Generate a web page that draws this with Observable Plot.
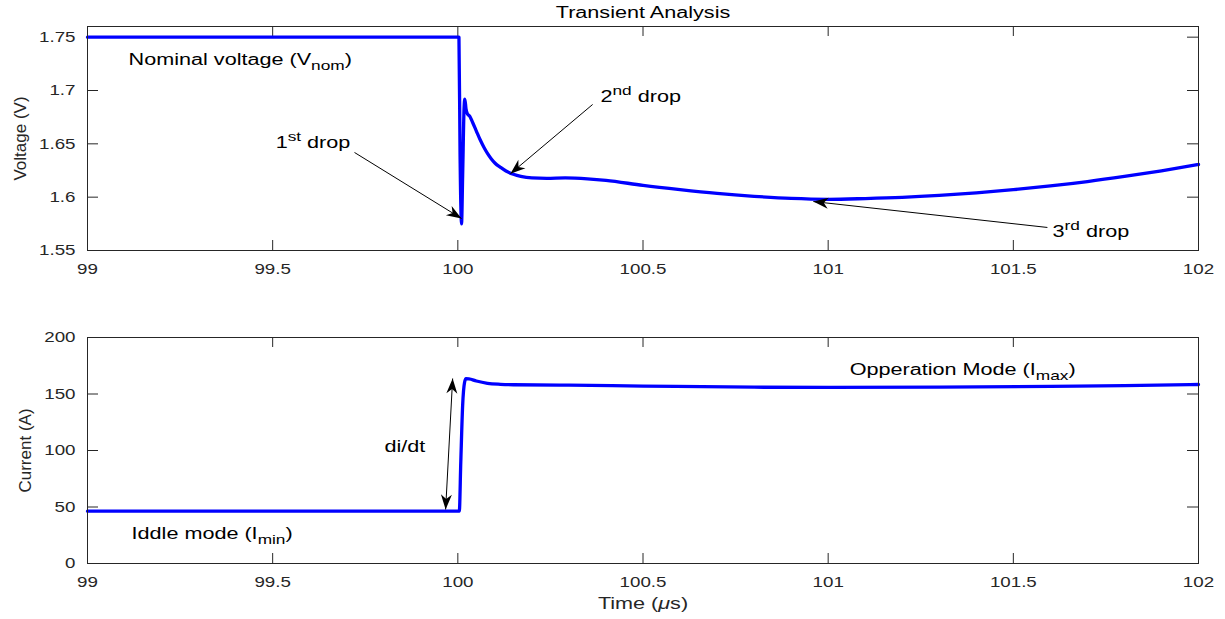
<!DOCTYPE html>
<html><head><meta charset="utf-8">
<script src="https://cdn.jsdelivr.net/npm/d3@7"></script>
<script src="https://cdn.jsdelivr.net/npm/@observablehq/plot@0.6"></script>
<style>
html,body{margin:0;padding:0;background:#fff;}
#chart{width:1225px;height:619px;overflow:hidden;background:#fff;}
#chart svg{display:block;}
</style></head><body><div id="chart"></div>
<script>
// ---------- data ----------
const xTicks = [99, 99.5, 100, 100.5, 101, 101.5, 102];
const voltTicks = [1.55, 1.6, 1.65, 1.7, 1.75];
const currTicks = [0, 50, 100, 150, 200];

const voltT = [99, 100.0, 100.003, 100.006, 100.010, 100.013, 100.017, 100.019, 100.022, 100.026, 100.032, 100.04, 100.05, 100.06, 100.07, 100.08, 100.09, 100.10, 100.115, 100.13, 100.15, 100.17, 100.2, 100.24, 100.29, 100.35, 100.4, 100.5, 100.6, 100.7, 100.8, 100.9, 101.0, 101.1, 101.2, 101.3, 101.4, 101.5, 101.6, 101.7, 101.8, 101.9, 102.0];
const voltV = [1.75, 1.75, 1.75, 1.64, 1.575, 1.62, 1.685, 1.692, 1.683, 1.678, 1.676, 1.670, 1.662, 1.654, 1.647, 1.641, 1.636, 1.632, 1.628, 1.6245, 1.6215, 1.6195, 1.618, 1.6176, 1.618, 1.6172, 1.6158, 1.611, 1.607, 1.6035, 1.6008, 1.5988, 1.598, 1.5987, 1.5998, 1.6016, 1.604, 1.607, 1.6105, 1.6146, 1.6194, 1.6247, 1.6306];

const currT = [99, 100.0, 100.004, 100.008, 100.013, 100.018, 100.022, 100.03, 100.05, 100.08, 100.115, 100.15, 100.3, 100.5, 100.8, 101.0, 101.3, 101.6, 101.8, 102.0];
const currI = [46.3, 46.3, 46.3, 90, 140, 160, 163.5, 163.4, 161.5, 159.5, 158.6, 158.2, 157.8, 157, 156, 155.8, 156.1, 156.8, 157.5, 158.4];

const voltNoteText = ["Nominal voltage (V_{nom})", "1^{st} drop", "2^{nd} drop", "3^{rd} drop"];
const voltNoteT = [99.111, 99.508, 100.385, 101.606];
const voltNoteV = [1.729, 1.6513, 1.6944, 1.5678];
const voltArrowT1 = [99.721, 100.364, 101.592];
const voltArrowV1 = [1.6419, 1.6869, 1.5716];
const voltArrowT2 = [100.010, 100.142, 100.960];
const voltArrowV2 = [1.580, 1.622, 1.5959];

const currNoteText = ["Iddle mode (I_{min})", "Opperation Mode (I_{max})"];
const currNoteT = [99.119, 101.058];
const currNoteI = [26.1, 171.7];
const didtText = ["di/dt"];
const didtT = [99.857];
const didtI = [103.1];
const didtArrowT1 = [99.967];
const didtArrowI1 = [47.8];
const didtArrowT2 = [99.986];
const didtArrowI2 = [163.7];

const titleText = ["Transient Analysis"];
const voltLabel = ["Voltage (V)"];
const currLabel = ["Current (A)"];
const timeLabel = ["Time (*{μ}s)"];

// ---------- layout ----------
const W = 1225, ML = 87, MR = 27;
const FONT = "'Liberation Sans', Arial, Helvetica, sans-serif";
const INK = "#262626";
const BLUE = "#0000ff";

function vback(orient) {
  return (color) => {
    const m = d3.create("svg:marker")
      .attr("viewBox", "-16 -7 17 14")
      .attr("markerWidth", 17).attr("markerHeight", 14)
      .attr("markerUnits", "userSpaceOnUse")
      .attr("refX", 0).attr("refY", 0)
      .attr("orient", orient)
      .attr("overflow", "visible");
    m.append("path").attr("d", "M0,0L-15,-5.5L-10.5,0L-15,5.5Z").attr("fill", color).attr("stroke", "none");
    return m.node();
  };
}

function boxTicks(yTicks, innerW, innerH) {
  return [
    Plot.tickX(xTicks, {x: d => d, stroke: INK, insetTop: innerH - 10}),
    Plot.tickX(xTicks, {x: d => d, stroke: INK, insetBottom: innerH - 10}),
    Plot.tickY(yTicks, {y: d => d, stroke: INK, insetRight: innerW - 11}),
    Plot.tickY(yTicks, {y: d => d, stroke: INK, insetLeft: innerW - 11})
  ];
}

const topH = 290, topMT = 26, topMB = 40;
const topPlot = Plot.plot({
  width: W, height: topH, marginLeft: ML, marginRight: MR, marginTop: topMT, marginBottom: topMB,
  style: {fontFamily: FONT, fontSize: "15px", color: INK, background: "white", overflow: "visible"},
  x: {domain: [99, 102]},
  y: {domain: [1.55, 1.76]},
  marks: [
    Plot.axisX({ticks: xTicks, tickSize: 0, tickPadding: 13, tickFormat: d => String(d), label: null}),
    Plot.axisY({ticks: voltTicks, tickSize: 0, tickPadding: 12, tickFormat: d => String(d), label: null}),
    ...boxTicks(voltTicks, W - ML - MR, topH - topMT - topMB),
    Plot.line(voltT, {x: voltT, y: voltV, stroke: BLUE, strokeWidth: 3.3, strokeLinejoin: "round", curve: "monotone-x"}),
    Plot.frame({stroke: INK}),
    Plot.link(voltArrowT1, {x1: voltArrowT1, y1: voltArrowV1, x2: voltArrowT2, y2: voltArrowV2, stroke: "black", strokeWidth: 1, markerEnd: vback("auto")}),
    Plot.text(voltNoteText, {x: voltNoteT, y: voltNoteV, text: d => d, textAnchor: "start", fontSize: 16, fill: "black"}),
    Plot.text(titleText, {text: d => d, frameAnchor: "top", textAnchor: "middle", lineAnchor: "middle", dy: -14, fontSize: 16, fill: "black"}),
    Plot.text(voltLabel, {text: d => d, frameAnchor: "left", textAnchor: "middle", lineAnchor: "middle", dx: -67, rotate: -90, fontSize: 17, fill: INK})
  ]
});

const botH = 329, botMT = 47, botMB = 56;
const botPlot = Plot.plot({
  width: W, height: botH, marginLeft: ML, marginRight: MR, marginTop: botMT, marginBottom: botMB,
  style: {fontFamily: FONT, fontSize: "15px", color: INK, background: "white", overflow: "visible"},
  x: {domain: [99, 102]},
  y: {domain: [0, 200]},
  marks: [
    Plot.axisX({ticks: xTicks, tickSize: 0, tickPadding: 13, tickFormat: d => String(d), label: null}),
    Plot.axisY({ticks: currTicks, tickSize: 0, tickPadding: 12, tickFormat: d => String(d), label: null}),
    ...boxTicks(currTicks, W - ML - MR, botH - botMT - botMB),
    Plot.line(currT, {x: currT, y: currI, stroke: BLUE, strokeWidth: 3.3, strokeLinejoin: "round", curve: "monotone-x"}),
    Plot.frame({stroke: INK}),
    Plot.link(didtArrowT1, {x1: didtArrowT1, y1: didtArrowI1, x2: didtArrowT2, y2: didtArrowI2, stroke: "black", strokeWidth: 1, markerStart: vback("auto-start-reverse"), markerEnd: vback("auto")}),
    Plot.text(currNoteText, {x: currNoteT, y: currNoteI, text: d => d, textAnchor: "start", fontSize: 16, fill: "black"}),
    Plot.text(didtText, {x: didtT, y: didtI, text: d => d, textAnchor: "middle", fontSize: 16, fill: "black"}),
    Plot.text(timeLabel, {text: d => d, frameAnchor: "bottom", textAnchor: "middle", lineAnchor: "middle", dy: 40, fontSize: 16, fill: INK}),
    Plot.text(currLabel, {text: d => d, frameAnchor: "left", textAnchor: "middle", lineAnchor: "middle", dx: -62, rotate: -90, fontSize: 17, fill: INK})
  ]
});

const chart = document.getElementById("chart");
chart.appendChild(topPlot);
chart.appendChild(botPlot);

// ---------- rich text (super/subscripts, italic) ----------
const SVGNS = "http://www.w3.org/2000/svg";
function richify(svg) {
  svg.querySelectorAll("text").forEach(t => {
    const s = t.textContent;
    if (!/[\^_*]\{/.test(s)) return;
    const fs = parseFloat(getComputedStyle(t).fontSize) || 16;
    const re = /([\^_*])\{([^}]*)\}/g;
    while (t.firstChild) t.removeChild(t.firstChild);
    let last = 0, shift = 0, m;
    const add = (str, kind) => {
      const sp = document.createElementNS(SVGNS, "tspan");
      const target = kind === "^" ? -0.42 * fs : kind === "_" ? 0.32 * fs : 0;
      const d = target - shift;
      if (d) sp.setAttribute("dy", d);
      shift = target;
      if (kind === "^" || kind === "_") sp.setAttribute("font-size", (fs * 0.8).toFixed(1));
      if (kind === "*") sp.setAttribute("font-style", "italic");
      sp.textContent = str;
      t.appendChild(sp);
    };
    while ((m = re.exec(s))) {
      if (m.index > last) add(s.slice(last, m.index), "");
      add(m[2], m[1]);
      last = re.lastIndex;
    }
    if (last < s.length) add(s.slice(last), "");
  });
}
// horizontal widening to match the reference's wide glyphs
function stretch(svg) {
  svg.querySelectorAll("text").forEach(t => {
    const tr = t.getAttribute("transform") || "";
    if (/rotate\(\s*-?90/.test(tr)) return;
    const isTick = !!t.closest('[aria-label$="tick label"]');
    const f = isTick ? 1.25 : 1.35;
    const len = t.getComputedTextLength();
    if (len > 0) {
      t.setAttribute("textLength", (len * f).toFixed(1));
      t.setAttribute("lengthAdjust", "spacingAndGlyphs");
    }
  });
}
[topPlot, botPlot].forEach(svg => { richify(svg); stretch(svg); });
</script>
</body></html>
